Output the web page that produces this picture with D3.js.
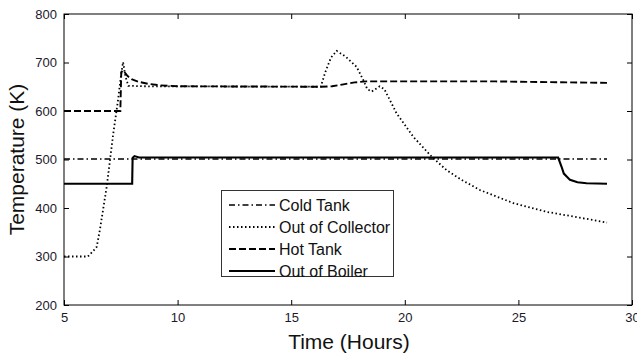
<!DOCTYPE html>
<html><head><meta charset="utf-8">
<script src="https://cdn.jsdelivr.net/npm/d3@7"></script>
<style>body{margin:0;background:#fff}svg{display:block}text{font-family:"Liberation Sans",Arial,sans-serif}</style>
</head><body>
<svg id="c" width="637" height="354"></svg>
<script>
const xTicks = [5,10,15,20,25,30];
const yTicks = [200,300,400,500,600,700,800];
const seriesNames = ["Cold Tank","Out of Collector","Hot Tank","Out of Boiler"];
const coldTank = [[5,501],[28.9,501]];
const outCollector = [[5,300],[6.05,300],[6.3,312],[6.44,320],[6.58,355],[6.88,444],[7.17,554],[7.38,623],[7.5,670],[7.6,701],[7.7,672],[7.83,652],[8.5,651],[16.3,650],[16.5,680],[16.75,710],[17.0,724],[17.4,712],[17.88,691],[18.17,664],[18.35,645],[18.54,640],[18.9,651],[19.1,645],[19.64,595],[20.37,547],[21.18,506],[21.84,478],[22.5,458],[23.31,437],[24.78,410],[26.25,392],[27.71,380],[28.9,370]];
const hotTank = [[5,600],[7.48,600],[7.52,680],[7.6,684],[7.8,672],[8.0,665],[8.3,660],[8.7,656],[9.2,653],[10,651],[16.3,650],[16.8,651],[17.3,655],[17.8,659],[18.3,661],[20,661],[24,661],[28.9,658]];
const outBoiler = [[5,450],[8.0,450],[8.02,503],[8.1,507],[8.3,504],[26.75,504],[26.9,485],[27.0,471],[27.27,458],[27.6,453],[28.0,451],[28.9,450]];
const allSeries = [coldTank,outCollector,hotTank,outBoiler];
const dashes = ["6,3,1.5,3","1.5,2.5","7,3",null];
const widths = [1.6,1.8,1.9,2.1];

const svg = d3.select("#c");
const L=64,R=632,T=14,B=305;
const x = d3.scaleLinear().domain([5,30]).range([L,R]);
const y = d3.scaleLinear().domain([200,800]).range([B,T]);

svg.append("rect").attr("x",L).attr("y",T).attr("width",R-L).attr("height",B-T).attr("fill","#fff").attr("stroke","#000").attr("stroke-width",1);

const fs="13px";
const xb = svg.append("g").attr("transform",`translate(0,${B})`).call(d3.axisBottom(x).tickValues(xTicks).tickSize(-5).tickPadding(8).tickFormat(d3.format("d")));
const xt = svg.append("g").attr("transform",`translate(0,${T})`).call(d3.axisTop(x).tickValues(xTicks).tickSize(-5).tickFormat(""));
const yl = svg.append("g").attr("transform",`translate(${L},0)`).call(d3.axisLeft(y).tickValues(yTicks).tickSize(-5).tickPadding(7).tickFormat(d3.format("d")));
const yr = svg.append("g").attr("transform",`translate(${R},0)`).call(d3.axisRight(y).tickValues(yTicks).tickSize(-5).tickFormat(""));
[xb,xt,yl,yr].forEach(g=>{g.select(".domain").remove();g.selectAll("line").attr("stroke","#000");g.selectAll("text").attr("font-size",fs).attr("fill","#1a1a2a").attr("font-family","Liberation Sans, Arial, sans-serif");});

const line = d3.line().x(d=>x(d[0])).y(d=>y(d[1]));
allSeries.forEach((s,i)=>{
  svg.append("path").datum(s).attr("d",line).attr("fill","none").attr("stroke","#000")
    .attr("stroke-width",widths[i]).attr("stroke-dasharray",dashes[i]);
});

const lg = svg.append("g");
lg.append("rect").attr("x",221.5).attr("y",190.5).attr("width",172).attr("height",86).attr("fill","#fff").attr("stroke","#333").attr("stroke-width",1);
seriesNames.forEach((n,i)=>{
  const yy = 205 + i*22;
  lg.append("line").attr("x1",229).attr("x2",275).attr("y1",yy).attr("y2",yy).attr("stroke","#000").attr("stroke-width",widths[i]).attr("stroke-dasharray",dashes[i]);
  lg.append("text").attr("x",279).attr("y",yy).attr("dy","0.35em").attr("font-size","16px").attr("fill","#111").text(n);
});

svg.append("text").attr("x",(L+R)/2+1).attr("y",349).attr("text-anchor","middle").attr("font-size","21px").attr("fill","#111").text("Time (Hours)");
svg.append("text").attr("transform",`translate(24,${(T+B)/2}) rotate(-90)`).attr("text-anchor","middle").attr("font-size","21px").attr("fill","#111").text("Temperature (K)");
</script>
</body></html>
